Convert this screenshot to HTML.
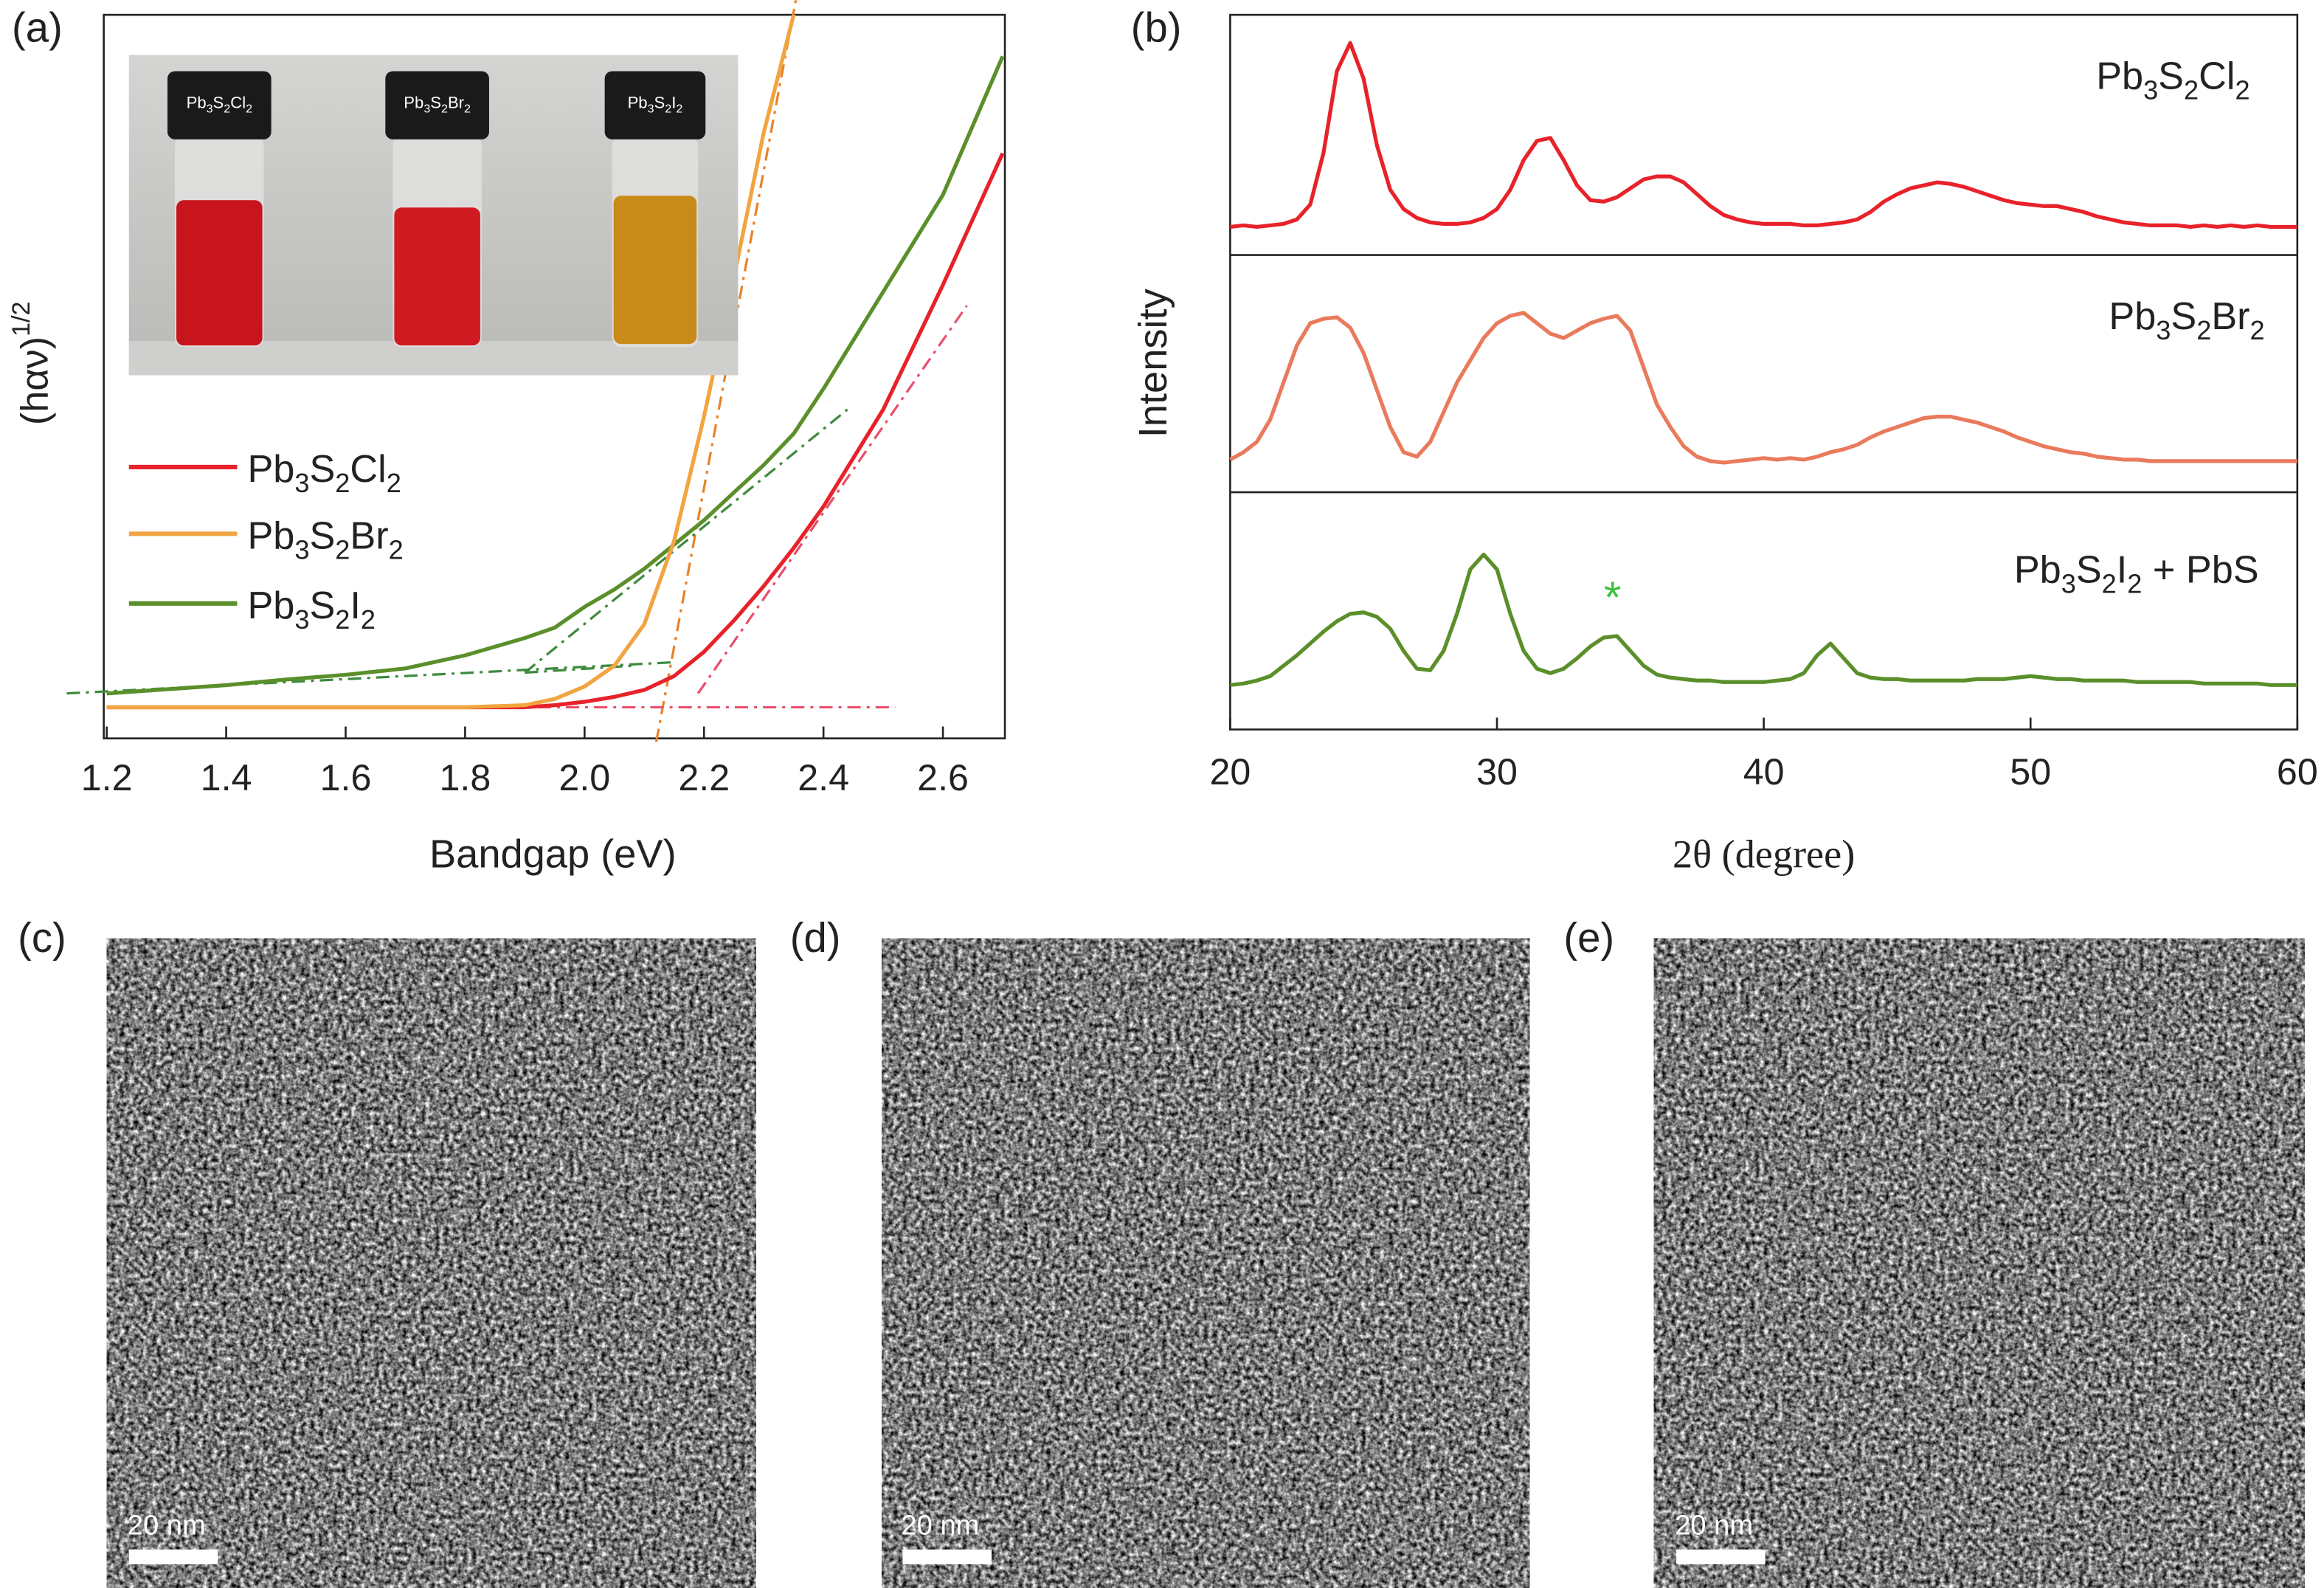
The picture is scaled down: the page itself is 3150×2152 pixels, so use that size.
<!DOCTYPE html>
<html><head><meta charset="utf-8"><style>
html,body{margin:0;padding:0;background:#fff}
svg{display:block}
text{font-family:"Liberation Sans",sans-serif;fill:#222}
</style></head><body>
<svg id="fig" width="3150" height="2152" viewBox="0 0 1568 1071" preserveAspectRatio="none" xmlns="http://www.w3.org/2000/svg">
<defs>
<filter id="grain" x="0" y="0" width="100%" height="100%" color-interpolation-filters="sRGB">
<feTurbulence type="fractalNoise" baseFrequency="0.32" numOctaves="3" seed="3"/>
<feColorMatrix type="matrix" values="1.5 0 0 0 -0.27  1.5 0 0 0 -0.27  1.5 0 0 0 -0.27  0 0 0 0 1"/>
</filter>
<linearGradient id="bgph" x1="0" y1="0" x2="0" y2="1"><stop offset="0" stop-color="#d4d4d2"/><stop offset="1" stop-color="#b9b9b7"/></linearGradient>
</defs>

<text x="8" y="28" font-size="28">(a)</text>
<g id="pa"></g>
<g>
<rect x="87" y="37" width="411" height="216" fill="url(#bgph)"/>
<rect x="87" y="230" width="411" height="23" fill="#cfcfcd"/>
<g>
<rect x="118" y="92" width="60" height="142" rx="6" fill="#e6e6e4" opacity="0.7"/>
<rect x="119" y="135" width="58" height="98" rx="5" fill="#c8141c"/>
<rect x="113" y="48" width="70" height="46" rx="5" fill="#1a1a1a"/>
<text x="148" y="73" font-size="11" text-anchor="middle" style="fill:#fff">Pb<tspan font-size="8" dy="3">3</tspan><tspan dy="-3">S</tspan><tspan font-size="8" dy="3">2</tspan><tspan dy="-3">Cl</tspan><tspan font-size="8" dy="3">2</tspan></text>
</g>
<g>
<rect x="265" y="92" width="60" height="142" rx="6" fill="#e6e6e4" opacity="0.7"/>
<rect x="266" y="140" width="58" height="93" rx="5" fill="#d01a22"/>
<rect x="260" y="48" width="70" height="46" rx="5" fill="#1a1a1a"/>
<text x="295" y="73" font-size="11" text-anchor="middle" style="fill:#fff">Pb<tspan font-size="8" dy="3">3</tspan><tspan dy="-3">S</tspan><tspan font-size="8" dy="3">2</tspan><tspan dy="-3">Br</tspan><tspan font-size="8" dy="3">2</tspan></text>
</g>
<g>
<rect x="413" y="92" width="58" height="142" rx="6" fill="#e6e6e4" opacity="0.7"/>
<rect x="414" y="132" width="56" height="100" rx="5" fill="#c88a18"/>
<rect x="408" y="48" width="68" height="46" rx="5" fill="#1a1a1a"/>
<text x="442" y="73" font-size="11" text-anchor="middle" style="fill:#fff">Pb<tspan font-size="8" dy="3">3</tspan><tspan dy="-3">S</tspan><tspan font-size="8" dy="3">2</tspan><tspan dy="-3">I</tspan><tspan font-size="8" dy="3">2</tspan></text>
</g>
</g>
<g>
<line x1="87" y1="315" x2="160" y2="315" stroke="#e8222a" stroke-width="3"/>
<text x="167" y="325" font-size="26">Pb<tspan font-size="18" dy="7">3</tspan><tspan dy="-7">S</tspan><tspan font-size="18" dy="7">2</tspan><tspan dy="-7">Cl</tspan><tspan font-size="18" dy="7">2</tspan></text>
<line x1="87" y1="360" x2="160" y2="360" stroke="#f2a440" stroke-width="3"/>
<text x="167" y="370" font-size="26">Pb<tspan font-size="18" dy="7">3</tspan><tspan dy="-7">S</tspan><tspan font-size="18" dy="7">2</tspan><tspan dy="-7">Br</tspan><tspan font-size="18" dy="7">2</tspan></text>
<line x1="87" y1="407" x2="160" y2="407" stroke="#5a8f2a" stroke-width="3"/>
<text x="167" y="417" font-size="26">Pb<tspan font-size="18" dy="7">3</tspan><tspan dy="-7">S</tspan><tspan font-size="18" dy="7">2</tspan><tspan dy="-7">I</tspan><tspan font-size="18" dy="7">2</tspan></text>
</g>
<text x="373" y="585" font-size="27" text-anchor="middle">Bandgap (eV)</text>
<text transform="translate(32,245) rotate(-90)" font-size="26" text-anchor="middle">(hαν)<tspan font-size="17" dy="-12">1/2</tspan></text>

<text x="763" y="28" font-size="28">(b)</text>
<g id="pb"></g>
<text x="1518" y="60" font-size="26" text-anchor="end">Pb<tspan font-size="18" dy="7">3</tspan><tspan dy="-7">S</tspan><tspan font-size="18" dy="7">2</tspan><tspan dy="-7">Cl</tspan><tspan font-size="18" dy="7">2</tspan></text>
<text x="1528" y="222" font-size="26" text-anchor="end">Pb<tspan font-size="18" dy="7">3</tspan><tspan dy="-7">S</tspan><tspan font-size="18" dy="7">2</tspan><tspan dy="-7">Br</tspan><tspan font-size="18" dy="7">2</tspan></text>
<text x="1524" y="393" font-size="26" text-anchor="end">Pb<tspan font-size="18" dy="7">3</tspan><tspan dy="-7">S</tspan><tspan font-size="18" dy="7">2</tspan><tspan dy="-7">I</tspan><tspan font-size="18" dy="7">2</tspan><tspan dy="-7"> + PbS</tspan></text>
<text x="1088" y="413" font-size="30" text-anchor="middle" style="fill:#3ec23e">*</text>
<text x="1190" y="585" font-size="27" text-anchor="middle" style="font-family:'Liberation Serif',serif">2θ (degree)</text>
<text transform="translate(787,245) rotate(-90)" font-size="27" text-anchor="middle">Intensity</text>

<g>
<text x="12" y="642" font-size="28">(c)</text>
<text x="533" y="642" font-size="28">(d)</text>
<text x="1055" y="642" font-size="28">(e)</text>
<g><rect x="72" y="633" width="438" height="438" filter="url(#grain)"/></g>
<g><rect x="595" y="633" width="437" height="438" filter="url(#grain)"/></g>
<g><rect x="1116" y="633" width="439" height="438" filter="url(#grain)"/></g>
<g><rect x="87" y="1045" width="60" height="10" fill="#fff"/><text x="86" y="1035" font-size="19" style="fill:#fff">20 nm</text></g>
<g><rect x="609" y="1045" width="60" height="10" fill="#fff"/><text x="608" y="1035" font-size="19" style="fill:#fff">20 nm</text></g>
<g><rect x="1131" y="1045" width="60" height="10" fill="#fff"/><text x="1130" y="1035" font-size="19" style="fill:#fff">20 nm</text></g>
</g>
</svg>
<script>
const energyA=[1.2,1.3,1.4,1.5,1.6,1.7,1.8,1.9,1.95,2.0,2.05,2.1,2.15,2.2,2.25,2.3,2.35,2.4,2.5,2.6,2.7];
const absCl=[0,0,0,0,0,0,0,0,0.3,0.8,1.5,2.5,4.5,8,12.5,17.5,23,29,43,61,80];
const absBr=[0,0,0,0,0,0,0,0.3,1.2,3,6,12,24,42,62,83,100,112,112,112,112];
const absI=[2,2.6,3.2,4,4.7,5.6,7.5,10,11.5,14.5,17,20,23.5,27,31,35,39.5,46,60,74,94];
const xTicksA=[1.2,1.4,1.6,1.8,2.0,2.2,2.4,2.6];
const twoTheta=[];for(let t=20;t<=60.001;t+=0.5)twoTheta.push(+t.toFixed(1));
const xrdCl=[0,1,0,1,2,5,15,50,105,124,100,55,25,12,6,3,2,2,3,6,12,25,45,58,60,45,28,18,17,20,26,32,34,34,30,22,14,8,5,3,2,2,2,1,1,2,3,5,10,17,22,26,28,30,29,27,24,21,18,16,15,14,14,12,10,7,5,3,2,1,1,1,0,1,0,1,0,1,0,0,0];
const xrdBr=[3,8,15,30,55,80,95,98,99,92,75,50,25,8,5,15,35,55,70,85,95,100,102,95,88,85,90,95,98,100,90,65,40,25,12,5,2,1,2,3,4,3,4,3,5,8,10,13,18,22,25,28,31,32,32,30,28,25,22,18,15,12,10,8,7,5,4,3,3,2,2,2,2,2,2,2,2,2,2,2,2];
const xrdI=[2,3,5,8,15,22,30,38,45,50,51,48,40,25,13,12,25,50,80,90,80,50,25,13,10,13,20,28,34,35,25,15,9,7,6,5,5,4,4,4,4,5,6,10,22,30,20,10,7,6,6,5,5,5,5,5,6,6,6,7,8,7,6,6,5,5,5,5,4,4,4,4,4,3,3,3,3,3,2,2,2];
const xTicksB=[20,30,40,50,60];

const NS="http://www.w3.org/2000/svg";
function mk(p,tag,at){const e=document.createElementNS(NS,tag);for(const k in at)e.setAttribute(k,at[k]);p.appendChild(e);return e;}

const pa=document.getElementById('pa');
const ax=e=>72+(e-1.2)/0.2*80.6;
const ay=v=>477-v*4.67;
mk(pa,'rect',{x:70,y:10,width:608,height:488,fill:'none',stroke:'#222','stroke-width':1.3});
xTicksA.forEach(t=>{
 const tk=mk(pa,'line',{x1:ax(t),x2:ax(t),y1:498,y2:490,stroke:'#222','stroke-width':1.3});
 
 
 const tl=mk(pa,'text',{x:ax(t),y:533,'font-size':25,'text-anchor':'middle'});
 tl.textContent=t.toFixed(1);
 
 
});
const clipA=mk(pa,'clipPath',{id:'clipA'});mk(clipA,'rect',{x:70,y:10,width:608,height:488});
const dd='9 4 2 4';
[[2.12,-5,2.36,105,'#e8822a'],[2.19,2,2.64,58,'#e8506a'],[1.45,0,2.52,0,'#e8506a'],[1.133,2,2.15,6.5,'#3e8a3e'],[1.9,5,2.44,43,'#3e8a3e'],[1.9,5,2.08,6,'#3e8a3e']].forEach(s=>{
 const l=mk(pa,'line',{x1:ax(s[0]),y1:ay(s[1]),x2:ax(s[2]),y2:ay(s[3]),stroke:s[4],'stroke-width':1.6,'stroke-dasharray':dd});
 
 
});
function curveA(arr,col,name){
 const d=energyA.map((e,i)=>(i?'L':'M')+ax(e).toFixed(1)+','+ay(arr[i]).toFixed(1)).join(' ');
 const p=mk(pa,'path',{d:d,fill:'none',stroke:col,'stroke-width':2.6,'stroke-linejoin':'round','clip-path':'url(#clipA)'});
 
 
}
curveA(absI,'#5a8f2a','curve-pb3s2i2');
curveA(absCl,'#e8222a','curve-pb3s2cl2');
curveA(absBr,'#f2a440','curve-pb3s2br2');

const pb=document.getElementById('pb');
const bx=t=>830+(t-20)*18;
mk(pb,'rect',{x:830,y:10,width:720,height:482,fill:'none',stroke:'#222','stroke-width':1.3});
mk(pb,'line',{x1:830,x2:1550,y1:172,y2:172,stroke:'#222','stroke-width':1.3});
mk(pb,'line',{x1:830,x2:1550,y1:332,y2:332,stroke:'#222','stroke-width':1.3});
xTicksB.forEach(t=>{
 const tk=mk(pb,'line',{x1:bx(t),x2:bx(t),y1:492,y2:484,stroke:'#222','stroke-width':1.3});
 
 
 const tl=mk(pb,'text',{x:bx(t),y:529,'font-size':25,'text-anchor':'middle'});
 tl.textContent=t;
 
 
});
function curveB(arr,base,col,name){
 const d=twoTheta.map((t,i)=>(i?'L':'M')+bx(t).toFixed(1)+','+(base-arr[i]).toFixed(1)).join(' ');
 const p=mk(pb,'path',{d:d,fill:'none',stroke:col,'stroke-width':2.6,'stroke-linejoin':'round'});
 
 
}
curveB(xrdCl,153,'#e8222a','xrd-pb3s2cl2');
curveB(xrdBr,313,'#ea7a5c','xrd-pb3s2br2');
curveB(xrdI,464,'#5a8f2a','xrd-pb3s2i2-pbs');
</script>
</body></html>
